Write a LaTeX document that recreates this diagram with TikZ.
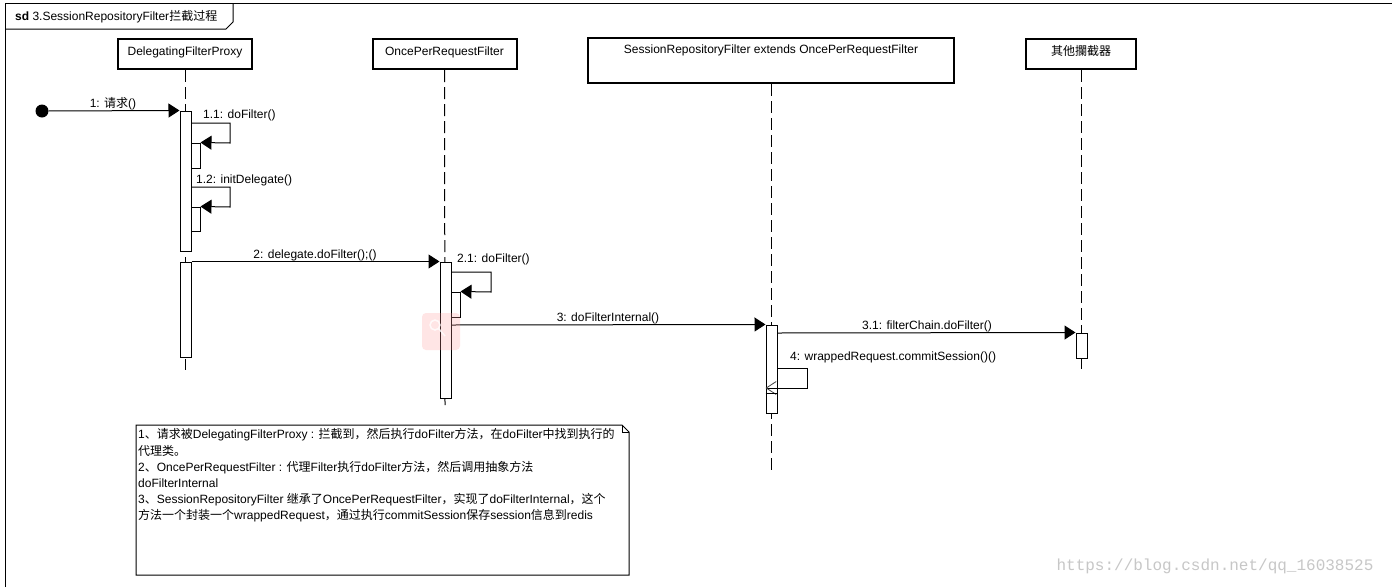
\documentclass[tikz,border=0pt]{standalone}
\usepackage{fontspec}
\setmainfont{Liberation Sans}
\newfontfamily\cjk{Noto Sans CJK SC}
\newfontfamily\wmfont{Liberation Mono}
\usetikzlibrary{arrows.meta,calc}
\newcommand\zh[1]{{\cjk #1}}
\begin{document}
\begin{tikzpicture}[x=1pt,y=-1pt,
  font=\fontsize{12}{14}\selectfont,
  lifebox/.style={draw,line width=2pt,fill=white,inner sep=0pt},
  lifeline/.style={line width=1pt,dash pattern=on 12pt off 5pt},
  act/.style={draw,line width=1pt,fill=white,minimum width=11pt,inner sep=0pt},
  nested/.style={draw,line width=1pt,fill=white,minimum width=9pt,inner sep=0pt},
  msg/.style={line width=1pt,-{Triangle[length=11pt,width=14pt]}},
  retmsg/.style={line width=1pt,-{Straight Barb[length=10pt,width=13pt,line width=0.8pt,color=black!75]}},
  lbl/.style={inner sep=0pt},
  notetext/.style={inner sep=0pt,anchor=west}]
\useasboundingbox (0,0) rectangle (1392,587);
\fill[white] (0,0) rectangle (1392,587);
% frame
\draw[line width=1pt] (5,587) -- (5,3) -- (1392,3);
\draw[line width=1pt] (5,29) -- (226,29) -- (233,22) -- (233,3);
\node[lbl,anchor=west] (title) at (15,17) {\textbf{sd} 3.SessionRepositoryFilter\zh{拦截过程}};
% lifeline heads
\node[lifebox,minimum width=134pt,minimum height=30pt] (P1) at (185,54) {};
\node[lbl] (P1t) at (185,52) {DelegatingFilterProxy};
\node[lifebox,minimum width=144pt,minimum height=30pt] (P2) at (444.5,54) {};
\node[lbl] (P2t) at (444.5,52) {OncePerRequestFilter};
\node[lifebox,minimum width=366pt,minimum height=45pt] (P3) at (771,60.5) {};
\node[lbl] (P3t) at (771,50) {SessionRepositoryFilter extends OncePerRequestFilter};
\node[lifebox,minimum width=110pt,minimum height=30pt] (P4) at (1081,54) {};
\node[lbl] (P4t) at (1081,51) {\zh{其他攔截器}};
% lifelines
\coordinate (E1) at (185,370);
\coordinate (E2) at (445,405);
\coordinate (E3) at (771,470);
\coordinate (E4) at (1081,369);
\draw[lifeline] (P1.south) -- (E1);
\draw[lifeline] (P2.south) -- (E2);
\draw[lifeline] (P3.south) -- (E3);
\draw[lifeline] (P4.south) -- (E4);
% activations
\node[act,minimum height=140pt] (A1) at (185.5,181) {};
\node[nested,minimum height=25pt] (A1a) at (195.5,155.5) {};
\node[nested,minimum height=24pt] (A1b) at (195.5,219) {};
\node[act,minimum height=95pt] (A2) at (185.5,309.5) {};
\node[act,minimum height=136pt] (B1) at (445.5,330) {};
\node[nested,minimum height=25pt] (B1a) at (455.5,304.5) {};
\node[act,minimum height=88pt] (C1) at (771.5,369) {};
\node[act,minimum height=25pt] (D1) at (1081.5,345.5) {};
% start
\node[circle,fill=black,minimum size=13pt,inner sep=0pt] (start) at (42,111) {};
% messages
\draw[msg] (start) -- (A1.north west);
\node[lbl] (m1) at (113,104) {1: \zh{请求}()};
\draw[msg] (A1.east |- 0,123) -- (230,123) -- (230,143) -- (A1a.north east);
\node[lbl,anchor=west] (m11) at (203,115) {1.1: doFilter()};
\draw[msg] (A1.east |- 0,187) -- (230,187) -- (230,207) -- (A1b.north east);
\node[lbl,anchor=west] (m12) at (196,180) {1.2: initDelegate()};
\draw[msg] (A2.north east) -- (B1.north west);
\node[lbl] (m2) at (315,255) {2: delegate.doFilter();()};
\draw[msg] (B1.east |- 0,272) -- (491,272) -- (491,292) -- (B1a.north east);
\node[lbl,anchor=west] (m21) at (457,259) {2.1: doFilter()};
\draw[msg] (B1.east |- 0,325) -- (C1.north west);
\node[lbl] (m3) at (608,318) {3: doFilterInternal()};
\draw[msg] (C1.east |- 0,333) -- (D1.north west);
\node[lbl] (m31) at (927,326) {3.1: filterChain.doFilter()};
\draw[retmsg] (C1.east |- 0,368) -- (807,368) -- (807,388) -- (C1.west |- 0,388);
\draw[line width=1pt] (C1.west |- 0,393) -- (C1.east |- 0,393);
\node[lbl,anchor=west] (m4) at (790,357) {4: wrappedRequest.commitSession()()};
% note
\draw[line width=1pt,fill=white] (136,425) -- (622,425) -- (629,432) -- (629,575) -- (136,575) -- cycle;
\draw[line width=1pt] (622,425) -- (622,432) -- (629,432);
\node[notetext] (n1) at (138,435) {1\zh{、请求被}DelegatingFilterProxy : \zh{拦截到，然后执行}doFilter\zh{方法，在}doFilter\zh{中找到执行的}};
\node[notetext] (n2) at (138,451) {\zh{代理类。}};
\node[notetext] (n3) at (138,468) {2\zh{、}OncePerRequestFilter : \zh{代理}Filter\zh{执行}doFilter\zh{方法，然后调用抽象方法}};
\node[notetext] (n4) at (138,483) {doFilterInternal};
\node[notetext] (n5) at (138,500) {3\zh{、}SessionRepositoryFilter \zh{继承了}OncePerRequestFilter\zh{，实现了}doFilterInternal\zh{，这个}};
\node[notetext] (n6) at (138,516) {\zh{方法一个封装一个}wrappedRequest\zh{，通过执行}commitSession\zh{保存}session\zh{信息到}redis};
% overlay icon
\fill[red!40,opacity=0.25,rounded corners=4pt] (422,313) rectangle (460,350);
\draw[white,line width=1.5pt,opacity=0.8] (435,325) circle (5pt) (439,329) -- (445,336);
% watermark
\node[inner sep=0pt,text=black!22,font=\wmfont\fontsize{16}{18}\selectfont] (wm) at (1215,566) {https://blog.csdn.net/qq\_16038525};
\end{tikzpicture}
\end{document}
